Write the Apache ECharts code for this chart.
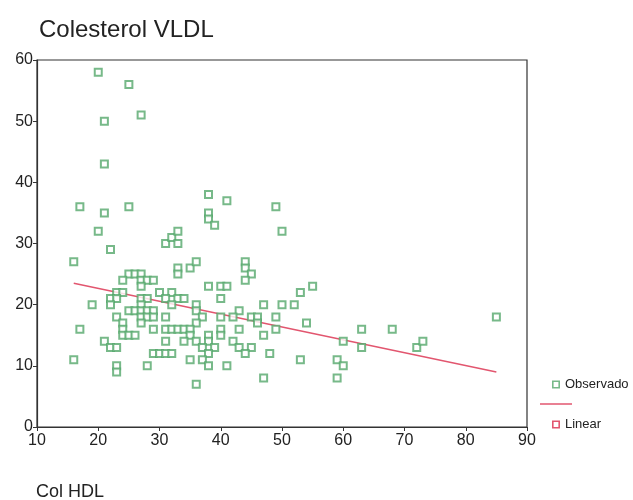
<!DOCTYPE html>
<html>
<head>
<meta charset="utf-8">
<script src="https://cdn.jsdelivr.net/npm/echarts@6/dist/echarts.min.js"></script>
<style>
html,body{margin:0;padding:0;background:#fff;}
#chart{width:633px;height:500px;}
</style>
</head>
<body>
<div id="chart"></div>
<script>
// Observed points: Col HDL (x) vs Colesterol VLDL (y)
var obsX = [20,25,21,27,21,17,21,25,20,22,16,
  38,41,38,38,39,49,50,
  31,32,33,33,33,33,35,36,
  44,44,45,44,
  38,40,41,40,53,55,
  47,50,52,49,49,54,47,48,53,47,
  63,68,60,63,59,60,59,72,73,85,
  25,26,27,24,27,28,29,27,
  23,24,30,32,
  22,23,27,28,31,33,34,
  19,22,27,32,36,
  25,26,27,28,29,36,43,
  23,27,28,29,31,37,40,42,45,46,
  24,27,36,46,
  17,24,29,31,32,33,34,35,40,43,
  24,25,26,35,38,40,
  21,31,34,36,38,42,
  22,23,37,39,43,45,
  29,30,31,32,38,44,
  16,35,37,
  23,28,38,41,
  23,
  36];
var obsY = [58,56,50,51,43,36,35,36,32,29,27,
  38,37,35,34,33,36,32,
  30,31,32,30,26,25,26,27,
  27,26,25,24,
  23,23,23,21,22,23,
  20,20,20,18,16,17,15,12,11,8,
  16,16,14,13,11,10,8,13,14,18,
  25,25,25,24,24,24,24,23,
  22,22,22,22,
  21,21,21,21,21,21,21,
  20,20,20,20,20,
  19,19,19,19,19,19,19,
  18,18,18,18,18,18,18,18,18,18,
  17,17,17,17,
  16,16,16,16,16,16,16,16,16,16,
  15,15,15,15,15,15,
  14,14,14,14,14,14,
  13,13,13,13,13,13,
  12,12,12,12,12,12,
  11,11,11,
  10,10,10,10,
  9,
  7];
// Linear fit line endpoints
var fitX = [16, 85];
var fitY = [23.5, 9.0];
var xTicks = [10,20,30,40,50,60,70,80,90];
var yTicks = [0,10,20,30,40,50,60];

var obsData = obsX.map(function(x,i){return [x, obsY[i]];});
var fitData = fitX.map(function(x,i){return [x, fitY[i]];});

var green = '#55a86c';
var red = '#e2566f';
var font = '"Liberation Sans", Arial, sans-serif';
var hollowSquare = 'path://M0,0L10,0L10,10L0,10Z M2,2L2,8L8,8L8,2Z';

var chart = echarts.init(document.getElementById('chart'));
chart.setOption({
  animation: false,
  backgroundColor: '#fff',
  title: {
    text: 'Colesterol VLDL',
    left: 34, top: 13,
    textStyle: {fontFamily: font, fontSize: 24, fontWeight: 'normal', color: '#222'}
  },
  graphic: [
    {type:'text', left: 36, top: 483, style:{text:'Col HDL', font:'18px "Liberation Sans", Arial, sans-serif', fill:'#222'}},
    {type:'line', shape:{x1:540, y1:404, x2:572, y2:404}, style:{stroke: red, lineWidth:1.5}}
  ],
  legend: {
    orient: 'vertical',
    left: 547, top: 373,
    itemWidth: 8, itemHeight: 8,
    itemGap: 27,
    textStyle: {fontFamily: font, fontSize: 13, color: '#222'},
    data: [
      {name: 'Observado', icon: hollowSquare, itemStyle:{color: green, borderWidth: 0, borderColor: 'transparent'}},
      {name: 'Linear', icon: hollowSquare, itemStyle:{color: red, borderWidth: 0}}
    ]
  },
  grid: {
    left: 37, right: 106, top: 60, bottom: 73,
    show: true, borderColor: '#333', borderWidth: 1.2
  },
  xAxis: {
    type: 'value', min: xTicks[0], max: xTicks[xTicks.length-1], interval: 10,
    axisLine: {show: true, onZero:false, lineStyle:{color:'#333', width:1.2}},
    axisTick: {show: true, length: 4, lineStyle:{color:'#333'}},
    axisLabel: {fontFamily: font, fontSize: 16, color: '#222', margin: 6},
    splitLine: {show: false}
  },
  yAxis: {
    type: 'value', min: yTicks[0], max: yTicks[yTicks.length-1], interval: 10,
    axisLine: {show: true, onZero:false, lineStyle:{color:'#333', width:1.2}},
    axisTick: {show: true, length: 4, lineStyle:{color:'#333'}},
    axisLabel: {fontFamily: font, fontSize: 16, color: '#222', margin: 4},
    splitLine: {show: false}
  },
  series: [
    {
      name: 'Observado', type: 'scatter', data: obsData,
      symbol: 'emptyRect', symbolSize: 7,
      itemStyle: {color: green, borderColor: green, borderWidth: 1.4},
      z: 3
    },
    {
      name: 'Linear', type: 'line', data: fitData,
      showSymbol: false, symbol: 'none',
      lineStyle: {color: red, width: 1.5},
      itemStyle: {color: red},
      z: 2
    }
  ]
});
</script>
</body>
</html>
